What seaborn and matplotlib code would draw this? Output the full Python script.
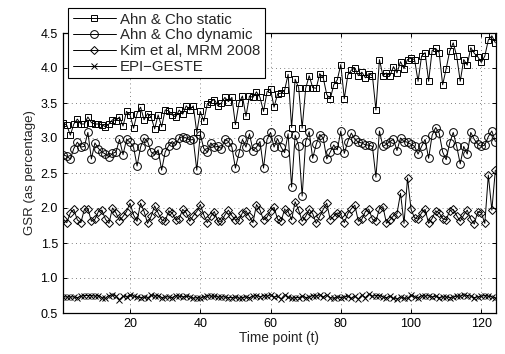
import numpy as np
import pandas as pd
import matplotlib
matplotlib.use("Agg")
import matplotlib.pyplot as plt
import seaborn as sns

time_points = list(range(1, 125))

ahn_static = [
    3.22, 3.18, 3.04, 3.20, 3.27, 3.20, 3.20, 3.30, 3.22, 3.20,
    3.20, 3.19, 3.16, 3.20, 3.26, 3.25, 3.30, 3.17, 3.38, 3.33,
    3.14, 3.35, 3.44, 3.26, 3.35, 3.30, 3.13, 3.33, 3.16, 3.40,
    3.39, 3.33, 3.30, 3.40, 3.34, 3.46, 3.40, 3.46, 3.08, 3.38,
    3.24, 3.49, 3.52, 3.55, 3.46, 3.50, 3.58, 3.52, 3.58, 3.19,
    3.50, 3.60, 3.31, 3.60, 3.58, 3.66, 3.58, 3.38, 3.66, 3.70,
    3.44, 3.63, 3.64, 3.68, 3.91, 3.15, 3.84, 3.72, 3.14, 3.71,
    3.89, 3.72, 3.71, 3.92, 3.86, 3.62, 3.56, 3.76, 3.83, 4.05,
    3.56, 3.90, 3.97, 4.00, 3.89, 3.94, 3.86, 3.92, 3.89, 3.40,
    4.12, 3.89, 3.93, 3.89, 4.02, 3.93, 4.09, 3.99, 4.12, 4.14,
    4.12, 3.81, 4.17, 4.22, 3.81, 4.25, 4.28, 4.22, 3.76, 3.99,
    4.24, 4.36, 4.17, 3.81, 4.12, 4.04, 4.29, 4.21, 4.16, 4.08,
    4.17, 4.40, 4.46, 4.36,
]

ahn_dynamic = [
    2.76, 2.74, 2.70, 2.85, 2.94, 2.87, 2.88, 3.08, 2.70, 2.93,
    2.85, 2.80, 2.77, 2.73, 2.78, 2.80, 2.98, 2.76, 2.98, 2.94,
    2.87, 2.60, 2.87, 3.00, 2.95, 2.80, 2.76, 2.83, 2.54, 2.80,
    2.89, 2.95, 2.90, 3.00, 3.02, 3.00, 2.97, 2.98, 2.54, 3.05,
    2.85, 2.80, 2.93, 2.87, 2.88, 2.85, 2.98, 2.95, 2.87, 2.57,
    2.78, 2.98, 2.87, 3.06, 2.82, 2.87, 2.95, 2.57, 2.98, 3.08,
    2.87, 2.99, 2.87, 2.79, 3.06, 2.30, 3.04, 2.89, 2.17, 2.95,
    3.09, 2.71, 2.91, 3.05, 3.00, 2.70, 2.80, 2.90, 2.83, 3.10,
    2.78, 2.95, 3.07, 2.98, 2.94, 2.93, 2.90, 2.90, 2.88, 2.44,
    3.10, 2.88, 2.91, 2.95, 2.98, 2.82, 3.00, 2.95, 2.94, 2.91,
    2.88, 2.77, 2.88, 2.98, 2.71, 3.04, 3.15, 3.07, 2.80, 2.69,
    2.93, 3.08, 2.88, 2.63, 2.88, 2.77, 3.08, 2.98, 2.91, 2.88,
    2.90, 3.02, 3.10, 2.95,
]

kim_mrm = [
    1.84, 1.79, 1.93, 1.98, 1.83, 1.79, 1.98, 1.99, 1.81, 1.84,
    1.95, 1.97, 1.84, 1.78, 2.00, 1.93, 1.82, 1.88, 1.95, 2.07,
    1.90, 1.81, 2.07, 1.95, 1.78, 1.88, 2.03, 1.93, 1.83, 1.81,
    1.96, 1.93, 1.83, 1.85, 1.98, 1.93, 1.81, 1.89, 1.95, 2.05,
    1.90, 1.79, 1.88, 1.95, 1.81, 1.81, 1.90, 1.97, 1.89, 1.83,
    1.83, 1.93, 1.96, 1.88, 1.79, 2.05, 1.97, 1.83, 1.87, 1.96,
    2.01, 1.84, 1.81, 1.98, 1.95, 1.83, 2.09, 1.97, 1.81, 1.88,
    1.98, 1.92, 1.78, 1.88, 1.98, 2.07, 1.83, 1.88, 1.93, 1.91,
    1.79, 1.92, 1.99, 2.04, 1.81, 1.84, 1.95, 1.98, 1.84, 1.81,
    1.99, 2.02, 1.78, 1.83, 1.89, 1.92, 2.21, 1.78, 2.43, 1.98,
    1.86, 1.84, 1.93, 1.98, 1.78, 1.85, 1.96, 1.93, 1.85, 1.83,
    1.96, 1.98, 1.89, 1.81, 1.90, 1.97, 1.84, 1.77, 1.95, 1.93,
    1.78, 2.47, 1.97, 2.54,
]

epi_geste = [
    0.73, 0.73, 0.73, 0.73, 0.72, 0.74, 0.75, 0.75, 0.75, 0.74,
    0.75, 0.72, 0.71, 0.75, 0.76, 0.74, 0.69, 0.74, 0.73, 0.76,
    0.74, 0.73, 0.72, 0.73, 0.71, 0.76, 0.74, 0.75, 0.72, 0.73,
    0.73, 0.72, 0.75, 0.74, 0.73, 0.74, 0.73, 0.71, 0.72, 0.71,
    0.73, 0.75, 0.74, 0.74, 0.73, 0.73, 0.73, 0.72, 0.72, 0.73,
    0.71, 0.72, 0.73, 0.72, 0.74, 0.75, 0.73, 0.75, 0.74, 0.76,
    0.73, 0.74, 0.70, 0.76, 0.73, 0.71, 0.72, 0.72, 0.74, 0.72,
    0.73, 0.75, 0.74, 0.76, 0.73, 0.76, 0.72, 0.71, 0.73, 0.72,
    0.73, 0.74, 0.71, 0.74, 0.70, 0.76, 0.72, 0.77, 0.74, 0.75,
    0.75, 0.73, 0.72, 0.74, 0.71, 0.70, 0.73, 0.71, 0.71, 0.76,
    0.73, 0.72, 0.75, 0.74, 0.75, 0.73, 0.74, 0.72, 0.73, 0.73,
    0.72, 0.73, 0.74, 0.74, 0.76, 0.75, 0.74, 0.72, 0.73, 0.74,
    0.75, 0.74, 0.73, 0.72,
]

series_names = ["Ahn & Cho static", "Ahn & Cho dynamic", "Kim et al, MRM 2008", "EPI\u2212GESTE"]
series_values = [ahn_static, ahn_dynamic, kim_mrm, epi_geste]
series_markers = ["s", "o", "D", "x"]
series_msize = [4.8, 5.6, 4.2, 4.2]

x_ticks = [20, 40, 60, 80, 100, 120]
y_ticks = [0.5, 1.0, 1.5, 2.0, 2.5, 3.0, 3.5, 4.0, 4.5]

sns.set_style("ticks")
plt.rcParams["font.family"] = ["Liberation Sans", "DejaVu Sans"]
plt.rcParams["font.size"] = 9

fig = plt.figure(figsize=(5.05, 3.54), dpi=100)
ax = fig.add_axes([62.7 / 505, 1 - 313 / 354, (495.7 - 62.7) / 505, (313 - 33) / 354])

for name, vals, mk, ms in zip(series_names, series_values, series_markers, series_msize):
    df = pd.DataFrame({"t": time_points, "v": vals})
    sns.lineplot(data=df, x="t", y="v", ax=ax, color="black", linewidth=0.7,
                 marker=mk, markersize=ms, markerfacecolor="none",
                 markeredgecolor="black", markeredgewidth=0.7, label=name,
                 legend=False)

ax.set_xlim(0.83, 124.1)
ax.set_ylim(0.5, 4.5)
ax.set_xticks(x_ticks)
ax.set_yticks(y_ticks)
ax.set_yticklabels([f"{v:.1f}" for v in y_ticks])
ax.grid(True, linestyle=(0, (1, 4)), color="0.35", linewidth=0.6)
ax.tick_params(direction="in", top=True, right=True, length=3, width=0.7,
               labelsize=9, colors="black")
for s in ax.spines.values():
    s.set_visible(True)
    s.set_linewidth(0.9)
    s.set_color("black")
ax.set_xlabel("Time point (t)", fontsize=9.8, labelpad=1)
ax.set_ylabel("GSR (as percentage)", fontsize=9.5, labelpad=3)

handles, labels = ax.get_legend_handles_labels()
leg = fig.legend(handles, labels, loc="upper left",
                 bbox_to_anchor=(68 / 505, 1 - 8 / 354), fontsize=10.8,
                 frameon=True, fancybox=False, shadow=False, framealpha=1,
                 edgecolor="black", handlelength=2.9, handletextpad=0.25,
                 labelspacing=0.12, borderpad=0.3, borderaxespad=0.0)
leg.get_frame().set_linewidth(0.8)

fig.savefig("out.png", dpi=100)
